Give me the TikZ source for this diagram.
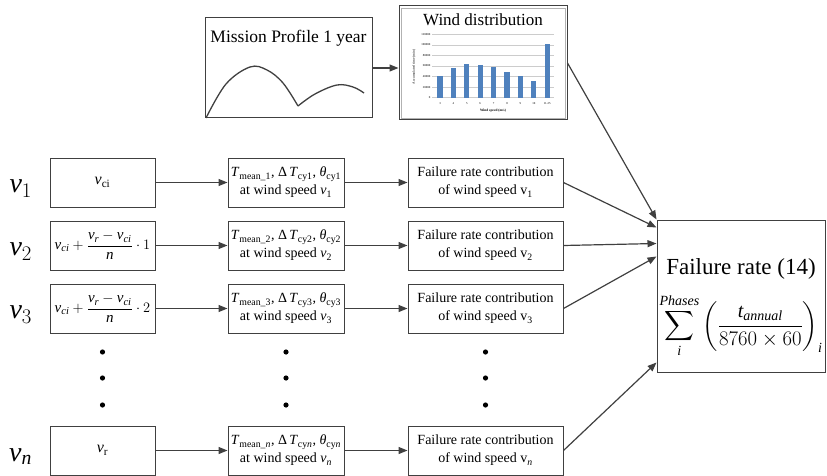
\documentclass[tikz,border=0pt]{standalone}
\usepackage{amsmath}
\usepackage{fontspec}
\setmainfont{Liberation Serif}
\usetikzlibrary{arrows.meta,positioning,calc}
\definecolor{line}{RGB}{64,64,64}
\definecolor{bar}{RGB}{79,129,189}
\newcommand{\vsub}[1]{\mathit{v}_{\mathit{#1}}}

\begin{document}
\begin{tikzpicture}[x=1pt,y=-1pt,node distance=72pt]
\tikzstyle{B}=[draw=line,line width=1pt,align=center,inner sep=1pt,minimum height=49pt]
\tikzstyle{A}=[draw=line,line width=1.2pt,-{Triangle[length=9pt,width=7pt]}]
\tikzstyle{V}=[font=\fontsize{28}{28}\selectfont,yshift=-6pt]
\tikzstyle{tx}=[font=\fontsize{14}{18}\selectfont]
\tikzstyle{tiny}=[font=\fontsize{3}{3.5}\selectfont,inner sep=0.5pt]
\useasboundingbox (0,0) rectangle (827,476);

\node[B,minimum width=167pt,minimum height=100pt](mp) at (288.5,68){};
\node[below=9pt of mp.north,font=\fontsize{17.5}{20}\selectfont](mptitle){Mission Profile 1 year};
\draw[line width=1.3pt,line] plot[smooth,tension=0.6] coordinates{(206,118) (226,84) (250,67) (267,70) (283,83) (298,106)};
\draw[line width=1.3pt,line] plot[smooth,tension=0.6] coordinates{(298,106) (315,94) (337,85) (353,87) (364,93)};

\node[B,minimum width=168pt,minimum height=114pt](wd) at (483,63){};
\draw[black!30] ([shift={(2.5,2.5)}]wd.north west) rectangle ([shift={(-2.5,-2.5)}]wd.south east);
\node[below=4.5pt of wd.north,font=\fontsize{17}{20}\selectfont](wdtitle){Wind distribution};
\foreach \lab [count=\k from 0] in {0,20000,40000,60000,80000,100000,120000}{
  \draw[black!20,line width=0.4pt] (432,{97.7-10.57*\k}) -- (554,{97.7-10.57*\k});
  \node[tiny,anchor=east] at (431,{97.7-10.57*\k}) {\lab};
}
\foreach \v/\lab [count=\i] in {40.5/3,57/4,64/5,61/6,57.5/7,48/8,40.5/9,32/10,101/11-25}{
  \fill[bar] ({440+13.4*(\i-1)-2.6},97.7) rectangle ++(5.2,{-0.5285*\v});
  \node[tiny] at ({440+13.4*(\i-1)},104) {\lab};
}
\node[tiny,font=\fontsize{3.5}{4}\selectfont\bfseries] (xlab) at (493,110.5) {Wind speed (m/s)};
\node[tiny,font=\fontsize{3.5}{4}\selectfont,rotate=90] (ylab) at (414,67) {Accumulated time (min)};

\node[B,minimum width=105pt,font=\fontsize{16}{18}\selectfont](c1) at (102.5,182.5){$\mathit{v}_{\mathrm{ci}}$};
\node[B,minimum width=105pt,font=\fontsize{15}{16}\selectfont](c2) at (102.5,245.5){$\vsub{ci}+\dfrac{\vsub{r}-\vsub{ci}}{\mathit{n}}\cdot 1$};
\node[B,minimum width=105pt,font=\fontsize{15}{16}\selectfont](c3) at (102.5,308.5){$\vsub{ci}+\dfrac{\vsub{r}-\vsub{ci}}{\mathit{n}}\cdot 2$};
\node[B,minimum width=105pt,font=\fontsize{16}{18}\selectfont](cn) at (102.5,450.5){$\mathit{v}_{\mathrm{r}}$};

\node[V,left=14pt of c1](v1){$\mathit{v}_1$};
\node[V,left=14pt of c2](v2){$\mathit{v}_2$};
\node[V,left=14pt of c3](v3){$\mathit{v}_3$};
\node[V,left=14pt of cn](vn){$\mathit{v}_{\mathit{n}}$};

\node[B,tx,minimum width=116pt,right=of c1](t1){\textit{T}\textsubscript{mean\_1}, Δ\,\textit{T}\textsubscript{cy1}, \textit{θ}\textsubscript{cy1}\\at wind speed \textit{v}\textsubscript{1}};
\node[B,tx,minimum width=116pt,right=of c2](t2){\textit{T}\textsubscript{mean\_2}, Δ\,\textit{T}\textsubscript{cy2}, \textit{θ}\textsubscript{cy2}\\at wind speed \textit{v}\textsubscript{2}};
\node[B,tx,minimum width=116pt,right=of c3](t3){\textit{T}\textsubscript{mean\_3}, Δ\,\textit{T}\textsubscript{cy3}, \textit{θ}\textsubscript{cy3}\\at wind speed \textit{v}\textsubscript{3}};
\node[B,tx,minimum width=116pt,right=of cn](tn){\textit{T}\textsubscript{mean\_\textit{n}}, Δ\,\textit{T}\textsubscript{cy\textit{n}}, \textit{θ}\textsubscript{cy\textit{n}}\\at wind speed \textit{v}\textsubscript{\textit{n}}};

\node[B,tx,minimum width=155pt,right=63pt of t1](f1){Failure rate contribution\\of wind speed v\textsubscript{1}};
\node[B,tx,minimum width=155pt,right=63pt of t2](f2){Failure rate contribution\\of wind speed v\textsubscript{2}};
\node[B,tx,minimum width=155pt,right=63pt of t3](f3){Failure rate contribution\\of wind speed v\textsubscript{3}};
\node[B,tx,minimum width=155pt,right=63pt of tn](fn){Failure rate contribution\\of wind speed v\textsubscript{\textit{n}}};

\foreach \n in {c3,t3,f3}
  \foreach \y in {352,378,405}
    \fill (\n.south |- 0,\y) circle (2.6);

\node[B,minimum width=168pt,minimum height=152pt](fr) at (741,296){};
\node[align=center,inner sep=0pt](frtext) at ([yshift=-12pt]fr.center){\fontsize{23}{28}\selectfont Failure rate (14)\\[14pt]
  \fontsize{20}{24}\selectfont$\displaystyle\sum_{\mathit{i}}^{\mathit{Phases}}\left(\frac{\mathit{t}_{\mathit{annual}}}{8760\times 60}\right)_{\mathit{i}}$};

\draw[A](mp.east)--(mp.east -| wd.west);
\draw[A](wd.east)--(fr.north west);
\foreach \r in {1,2,3,n}{
  \draw[A](c\r)--(t\r);
  \draw[A](t\r)--(f\r);
}
\draw[A](f1.east)--($(fr.north west)+(0,8)$);
\draw[A](f2.east)--($(fr.north west)+(0,24)$);
\draw[A](f3.east)--($(fr.north west)+(0,37)$);
\draw[A](fn.east)--($(fr.south west)+(0,-10)$);
\end{tikzpicture}
\end{document}
